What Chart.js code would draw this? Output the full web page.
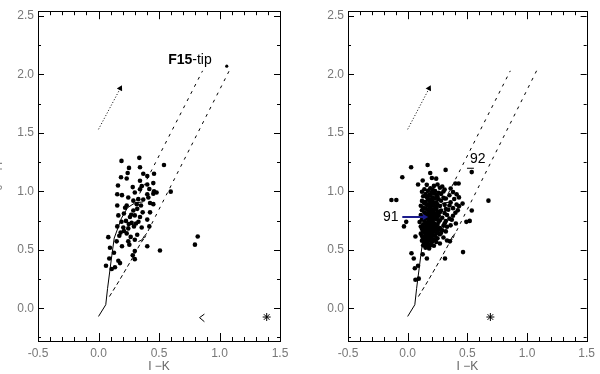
<!DOCTYPE html>
<html>
<head>
<meta charset="utf-8">
<script src="https://cdn.jsdelivr.net/npm/chart.js@4.4.0/dist/chart.umd.min.js"></script>
<style>
html, body { margin: 0; padding: 0; background: #fff; }
#wrap { position: relative; width: 600px; height: 374px; overflow: hidden; }
canvas { position: absolute; top: 0; }
#leftChart { left: 0; }
#rightChart { left: 300px; }
</style>
</head>
<body>
<div id="wrap">
  <canvas id="leftChart" width="300" height="374"></canvas>
  <canvas id="rightChart" width="300" height="374"></canvas>
</div>
<script>
// ==================== AXES ====================
const X_MIN = -0.5, X_MAX = 1.5;
const Y_MIN = -0.28, Y_MAX = 2.54;
const xTickValues = [-0.5, 0.0, 0.5, 1.0, 1.5];
const xTickLabels = ['-0.5', '0.0', '0.5', '1.0', '1.5'];
const yTickValues = [0.0, 0.5, 1.0, 1.5, 2.0, 2.5];
const yTickLabels = ['0.0', '0.5', '1.0', '1.5', '2.0', '2.5'];
const xTitle = 'I \u2212K';
const yTitle = 'J \u2212 H';

// ==================== SEQUENCES / LINES ====================
const giantSeq = [[0.0, -0.07], [0.06, 0.03], [0.075, 0.17], [0.11, 0.45], [0.13, 0.60], [0.19, 0.77], [0.24, 0.86], [0.30, 0.90], [0.37, 0.91]];
const dwarfSeq = [[0.09, 0.10], [0.165, 0.225], [0.27, 0.41], [0.35, 0.56], [0.38, 0.60]];
const dwarfHook = [[0.33, 0.57], [0.36, 0.585], [0.38, 0.62], [0.40, 0.64]];
const bandUpper = [[0.31, 0.92], [0.86, 2.03]];
const bandLower = [[0.38, 0.60], [1.085, 2.04]];
const reddening = [[0.0, 1.53], [0.18, 1.88]];

// ==================== LEFT PANEL ====================
const leftStars = [
  [0.19, 1.26], [0.337, 1.286], [0.252, 1.20], [0.343, 1.206], [0.541, 1.225], [0.241, 1.156],
  [0.186, 1.12], [0.233, 1.11], [0.37, 1.15], [0.403, 1.13], [0.459, 1.15], [0.343, 1.09],
  [0.453, 1.07], [0.161, 1.05], [0.283, 1.036], [0.357, 1.044], [0.343, 1.017], [0.403, 1.058],
  [0.42, 1.02], [0.459, 1.0], [0.48, 0.99], [0.453, 0.98], [0.155, 0.975], [0.194, 0.967],
  [0.246, 0.947], [0.288, 0.92], [0.329, 0.933], [0.403, 0.975], [0.412, 0.947], [0.597, 0.997],
  [0.155, 0.878], [0.233, 0.878], [0.316, 0.89], [0.351, 0.878], [0.426, 0.9], [0.453, 0.89],
  [0.288, 0.836], [0.32, 0.85], [0.365, 0.82], [0.426, 0.82], [0.164, 0.794], [0.21, 0.81],
  [0.26, 0.78], [0.30, 0.794], [0.343, 0.78], [0.403, 0.758], [0.19, 0.74], [0.227, 0.747],
  [0.274, 0.73], [0.31, 0.725], [0.155, 0.70], [0.205, 0.69], [0.246, 0.683], [0.293, 0.70],
  [0.357, 0.69], [0.42, 0.70], [0.183, 0.647], [0.233, 0.64], [0.266, 0.61], [0.32, 0.628],
  [0.172, 0.62], [0.081, 0.608], [0.15, 0.572], [0.246, 0.572], [0.30, 0.586], [0.194, 0.53],
  [0.255, 0.544], [0.403, 0.53], [0.508, 0.494], [0.095, 0.517], [0.30, 0.489], [0.128, 0.475],
  [0.089, 0.425], [0.283, 0.453], [0.30, 0.42], [0.164, 0.406], [0.178, 0.386], [0.062, 0.364],
  [0.136, 0.35], [0.109, 0.336], [0.797, 0.544], [0.82, 0.614],
  [0.22, 0.86], [0.27, 0.80], [0.25, 0.72], [0.21, 0.66], [0.33, 0.74], [0.37, 0.93], [0.30, 0.99]
];
const tipPoint = [[1.06, 2.07]];
const leftChevron = [[0.875, -0.05], [0.835, -0.08], [0.875, -0.115]];
const leftAsterisk = [[1.39, -0.075]];
const leftTexts = [{ x: 0.756, y: 2.125, bold: 'F15', plain: '-tip' }];

// ==================== RIGHT PANEL ====================
const rightOutliers = [
  [0.029, 1.206], [0.167, 1.225], [0.318, 1.183], [-0.045, 1.12], [0.189, 1.156], [0.203, 1.114],
  [0.239, 1.108], [0.087, 1.058], [0.126, 1.092], [0.40, 1.067], [0.427, 1.067], [0.537, 1.164],
  [-0.136, 0.925], [-0.095, 0.925], [0.677, 0.92], [-0.012, 0.739], [-0.031, 0.70], [0.537, 0.836],
  [0.52, 0.747], [0.492, 0.739], [0.065, 0.614], [0.464, 0.48], [0.032, 0.47], [0.051, 0.425],
  [0.161, 0.425], [0.313, 0.425], [0.126, 0.461], [0.087, 0.364], [0.06, 0.342], [0.093, 0.253],
  [0.065, 0.244], [0.189, 0.536], [0.354, 0.572], [0.404, 0.725]
];
const rightCluster = [
  [0.16, 1.055], [0.22, 1.046], [0.25, 1.058], [0.29, 1.041],
  [0.14, 1.018], [0.19, 1.026], [0.21, 1.012], [0.27, 1.031], [0.31, 1.015], [0.36, 1.024],
  [0.12, 0.996], [0.17, 1.004], [0.20, 0.991], [0.23, 1.002], [0.26, 0.988], [0.30, 0.998], [0.38, 0.993],
  [0.15, 0.977], [0.18, 0.969], [0.22, 0.981], [0.24, 0.972], [0.28, 0.978], [0.35, 0.966], [0.41, 0.974],
  [0.13, 0.958], [0.16, 0.951], [0.19, 0.963], [0.21, 0.947], [0.25, 0.955], [0.30, 0.944], [0.43, 0.948],
  [0.17, 0.936], [0.20, 0.928], [0.23, 0.941], [0.26, 0.932], [0.32, 0.938], [0.39, 0.934],
  [0.12, 0.918], [0.15, 0.911], [0.18, 0.922], [0.21, 0.914], [0.24, 0.907], [0.28, 0.919], [0.36, 0.905],
  [0.14, 0.897], [0.17, 0.889], [0.19, 0.901], [0.22, 0.893], [0.25, 0.886], [0.31, 0.884], [0.41, 0.887], [0.46, 0.895],
  [0.11, 0.876], [0.16, 0.882], [0.18, 0.871], [0.20, 0.879], [0.23, 0.868], [0.27, 0.874], [0.35, 0.878], [0.43, 0.873],
  [0.13, 0.858], [0.15, 0.851], [0.19, 0.862], [0.21, 0.847], [0.24, 0.855], [0.32, 0.849], [0.38, 0.856],
  [0.12, 0.838], [0.17, 0.844], [0.20, 0.833], [0.22, 0.841], [0.25, 0.829], [0.28, 0.836], [0.34, 0.842], [0.42, 0.837],
  [0.14, 0.818], [0.16, 0.811], [0.18, 0.823], [0.21, 0.815], [0.23, 0.808], [0.27, 0.821], [0.31, 0.813], [0.40, 0.817],
  [0.11, 0.797], [0.15, 0.803], [0.17, 0.791], [0.19, 0.799], [0.22, 0.788], [0.24, 0.802], [0.26, 0.794], [0.33, 0.798], [0.38, 0.791],
  [0.13, 0.778], [0.16, 0.771], [0.18, 0.783], [0.20, 0.775], [0.23, 0.768], [0.25, 0.781], [0.29, 0.774], [0.35, 0.766],
  [0.12, 0.758], [0.14, 0.751], [0.17, 0.763], [0.19, 0.755], [0.21, 0.747], [0.24, 0.761], [0.27, 0.753], [0.32, 0.746], [0.37, 0.757],
  [0.10, 0.738], [0.15, 0.731], [0.18, 0.742], [0.20, 0.735], [0.22, 0.727], [0.26, 0.739], [0.31, 0.726],
  [0.13, 0.718], [0.16, 0.711], [0.17, 0.723], [0.19, 0.714], [0.21, 0.707], [0.23, 0.721], [0.25, 0.713], [0.30, 0.706], [0.36, 0.709],
  [0.11, 0.698], [0.14, 0.691], [0.16, 0.702], [0.18, 0.694], [0.20, 0.687], [0.22, 0.699], [0.24, 0.693], [0.27, 0.686], [0.33, 0.697],
  [0.12, 0.678], [0.15, 0.671], [0.17, 0.683], [0.19, 0.675], [0.21, 0.668], [0.23, 0.681], [0.26, 0.673], [0.29, 0.666],
  [0.13, 0.658], [0.14, 0.651], [0.16, 0.662], [0.18, 0.654], [0.20, 0.647], [0.22, 0.661], [0.25, 0.653], [0.28, 0.645], [0.32, 0.657],
  [0.11, 0.638], [0.15, 0.631], [0.17, 0.642], [0.19, 0.634], [0.21, 0.627], [0.24, 0.639], [0.27, 0.633],
  [0.12, 0.618], [0.14, 0.611], [0.16, 0.622], [0.18, 0.614], [0.20, 0.607], [0.23, 0.619], [0.30, 0.605],
  [0.13, 0.598], [0.15, 0.591], [0.17, 0.602], [0.19, 0.594], [0.22, 0.587], [0.25, 0.599],
  [0.12, 0.578], [0.16, 0.571], [0.18, 0.583], [0.21, 0.574], [0.24, 0.567], [0.33, 0.579],
  [0.14, 0.558], [0.17, 0.551], [0.20, 0.562], [0.27, 0.554],
  [0.13, 0.538], [0.16, 0.531], [0.19, 0.542], [0.22, 0.535],
  [0.15, 0.518], [0.18, 0.511]
];
const star91Arrow = [[-0.045, 0.78], [0.142, 0.78]];
const star92Bar = [[0.497, 1.197], [0.555, 1.197]];
const rightAsterisk = [[0.693, -0.075]];
const rightTexts = [{ x: -0.141, y: 0.78, plain: '91' }, { x: 0.588, y: 1.275, plain: '92' }];

// ==================== HELPERS ====================
const FONT = "'Liberation Sans', Arial, sans-serif";
const toXY = arr => arr.map(p => ({ x: p[0], y: p[1] }));

function headAngle(ctx) {
    const d = ctx.dataset.data;
    const sx = ctx.chart.scales.x, sy = ctx.chart.scales.y;
    const a = d[d.length - 2], b = d[d.length - 1];
    const dx = sx.getPixelForValue(b.x) - sx.getPixelForValue(a.x);
    const dy = sy.getPixelForValue(b.y) - sy.getPixelForValue(a.y);
    return Math.atan2(dx, -dy) * 180 / Math.PI;
}

function lineSet(data, dash, width, color) {
    return {
        data: toXY(data),
        showLine: true,
        borderColor: color || '#000',
        borderWidth: width || 1,
        borderDash: dash || [],
        pointRadius: 0,
        tension: 0,
        order: 3
    };
}

function arrowSet(data, dash, width, color, head) {
    const last = data.length - 1;
    return {
        data: toXY(data),
        showLine: true,
        borderColor: color,
        backgroundColor: color,
        borderWidth: width,
        borderDash: dash,
        pointStyle: 'triangle',
        pointRadius: ctx => ctx.dataIndex === last ? head : 0,
        rotation: headAngle,
        pointBorderWidth: 0,
        tension: 0,
        order: 0
    };
}

function starSet(data, radius) {
    return {
        data: toXY(data),
        pointStyle: 'circle',
        pointRadius: radius,
        backgroundColor: '#000',
        borderWidth: 0,
        order: 2
    };
}

function asteriskSet(data) {
    return {
        data: toXY(data),
        pointStyle: 'star',
        pointRadius: 4,
        borderColor: '#000',
        borderWidth: 1,
        backgroundColor: '#000',
        order: 1
    };
}

// frame, inward ticks, text labels
const framePlugin = {
    id: 'frame',
    afterDatasetsDraw(chart, args, opts) {
        const { ctx, chartArea: ca } = chart;
        const sx = chart.scales.x, sy = chart.scales.y;
        ctx.save();
        ctx.strokeStyle = '#000';
        ctx.lineWidth = 1;
        ctx.strokeRect(Math.round(ca.left) + 0.5, Math.round(ca.top) + 0.5,
            Math.round(ca.right - ca.left), Math.round(ca.bottom - ca.top));
        ctx.beginPath();
        for (let i = 0; i <= 20; i++) {
            const v = X_MIN + i * 0.1;
            const px = Math.round(sx.getPixelForValue(v)) + 0.5;
            const len = (i % 5 === 0) ? 8 : 4;
            ctx.moveTo(px, ca.bottom); ctx.lineTo(px, ca.bottom - len);
            ctx.moveTo(px, ca.top); ctx.lineTo(px, ca.top + len);
        }
        for (let i = -1; i <= 10; i++) {
            const v = i * 0.25;
            if (v < Y_MIN || v > Y_MAX) continue;
            const py = Math.round(sy.getPixelForValue(v)) + 0.5;
            const len = (i % 2 === 0) ? 6 : 3;
            ctx.moveTo(ca.left, py); ctx.lineTo(ca.left + len, py);
            ctx.moveTo(ca.right, py); ctx.lineTo(ca.right - len, py);
        }
        ctx.stroke();

        ctx.fillStyle = '#000';
        ctx.textBaseline = 'middle';
        (opts.texts || []).forEach(t => {
            const px = sx.getPixelForValue(t.x);
            const py = sy.getPixelForValue(t.y);
            const boldFont = 'bold 14px ' + FONT;
            const plainFont = '14px ' + FONT;
            ctx.font = boldFont;
            const wb = t.bold ? ctx.measureText(t.bold).width : 0;
            ctx.font = plainFont;
            const wp = ctx.measureText(t.plain).width;
            let x0 = px - (wb + wp) / 2;
            ctx.textAlign = 'left';
            if (t.bold) {
                ctx.font = boldFont;
                ctx.fillText(t.bold, x0, py);
                x0 += wb;
            }
            ctx.font = plainFont;
            ctx.fillText(t.plain, x0, py);
        });

        if (opts.yTitle) {
            ctx.translate(2, (ca.top + ca.bottom) / 2);
            ctx.rotate(-Math.PI / 2);
            ctx.font = '12px ' + FONT;
            ctx.fillStyle = '#888';
            ctx.textAlign = 'center';
            ctx.textBaseline = 'alphabetic';
            ctx.fillText(opts.yTitle, 0, 0);
        }
        ctx.restore();
    }
};

function makeChart(id, datasets, yAxisWidth, rightPad, texts, withYTitle) {
    return new Chart(document.getElementById(id), {
        type: 'scatter',
        data: { datasets },
        plugins: [framePlugin],
        options: {
            responsive: false,
            animation: false,
            layout: { padding: { top: 2, right: rightPad, left: 0, bottom: 0 } },
            plugins: {
                legend: { display: false },
                tooltip: { enabled: false },
                frame: { texts, yTitle: withYTitle ? yTitle : null }
            },
            scales: {
                x: {
                    type: 'linear',
                    min: X_MIN,
                    max: X_MAX,
                    afterBuildTicks: s => { s.ticks = xTickValues.map(v => ({ value: v })); },
                    afterFit: s => { s.height = 33; },
                    grid: { display: false, drawTicks: false },
                    border: { display: false },
                    ticks: {
                        autoSkip: false,
                        maxRotation: 0,
                        padding: 5,
                        color: '#777',
                        font: { family: FONT, size: 12 },
                        callback: (v, i) => xTickLabels[i]
                    },
                    title: {
                        display: true,
                        text: xTitle,
                        color: '#666',
                        font: { family: FONT, size: 12 },
                        padding: { top: 0, bottom: 0 }
                    }
                },
                y: {
                    type: 'linear',
                    min: Y_MIN,
                    max: Y_MAX,
                    afterBuildTicks: s => { s.ticks = yTickValues.map(v => ({ value: v })); },
                    afterFit: s => { s.width = yAxisWidth; },
                    grid: { display: false, drawTicks: false },
                    border: { display: false },
                    ticks: {
                        padding: 4,
                        color: '#777',
                        font: { family: FONT, size: 12 },
                        callback: (v, i) => yTickLabels[i]
                    }
                }
            }
        }
    });
}

// ==================== BUILD ====================
const commonLines = () => [
    lineSet(giantSeq, [], 1),
    lineSet(dwarfSeq, [4, 3], 1),
    lineSet(dwarfHook, [], 1),
    lineSet(bandUpper, [3, 5], 1),
    lineSet(bandLower, [3, 5], 1),
    arrowSet(reddening, [1, 2], 1, '#000', 3.5)
];

makeChart('leftChart', [
    ...commonLines(),
    starSet(leftStars, 2.3),
    starSet(tipPoint, 1.6),
    lineSet(leftChevron, [], 1),
    asteriskSet(leftAsterisk)
], 38, 20, leftTexts, true);

makeChart('rightChart', [
    arrowSet(star91Arrow, [], 2, '#1c1c8c', 3.5),
    ...commonLines(),
    starSet(rightOutliers, 2.3),
    starSet(rightCluster, 2.3),
    lineSet(star92Bar, [], 1),
    asteriskSet(rightAsterisk)
], 48, 10, rightTexts, false);
</script>
</body>
</html>
